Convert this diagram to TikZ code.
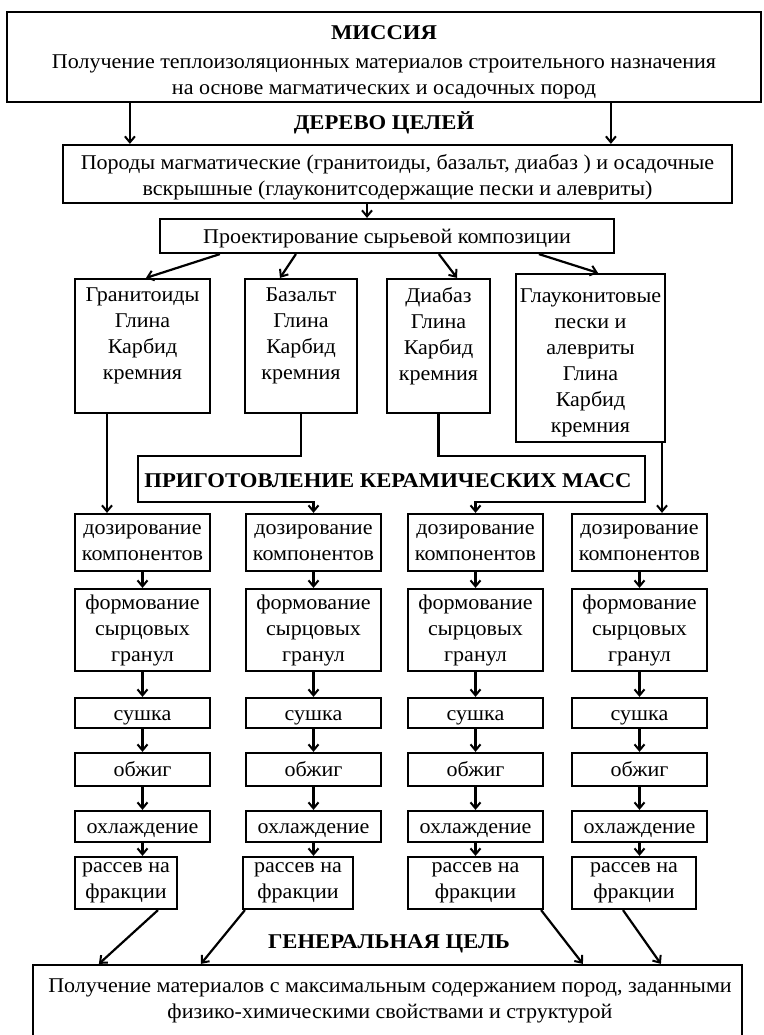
\documentclass[tikz,border=0pt]{standalone}
\usepackage{fontspec}
\setmainfont{Liberation Serif}[FakeStretch=1.05, BoldFeatures={FakeStretch=1.08}]
\usetikzlibrary{arrows.meta}
\begin{document}
\begin{tikzpicture}[x=1pt,y=-1pt,
  line width=2.2pt,
  box/.style={draw, line width=2.2pt, inner sep=0pt, align=center, font=\fontsize{21}{26}\selectfont},
  one/.style={text height=14pt, text depth=0pt},
  txt/.style={align=center, inner sep=0pt, font=\fontsize{21}{26}\selectfont},
  btxt/.style={align=center, inner sep=0pt, font=\fontsize{21}{26}\selectfont\bfseries},
  arr/.style={-{Straight Barb[length=6pt,width=10pt,line width=2pt]}}]

\useasboundingbox (0,0) rectangle (763,1035);
\clip (0,0) rectangle (763,1035);

% Mission
\node[box, minimum width=754pt, minimum height=90pt] (mis) at (384,57) {};
\node[txt] (mist) at (384,62) {\textbf{МИССИЯ}\\[3pt] Получение теплоизоляционных материалов строительного назначения\\ на основе магматических и осадочных пород};

\node[btxt] (tree) at (384,123) {ДЕРЕВО ЦЕЛЕЙ};

% Source rocks
\node[box, minimum width=669pt, minimum height=58pt] (src) at (397.5,174) {};
\node[txt] (srct) at (397.5,177) {Породы магматические (гранитоиды, базальт, диабаз ) и осадочные\\ вскрышные (глауконитсодержащие пески и алевриты)};

\coordinate (m1) at ([xshift=124pt]mis.south west);
\coordinate (m2) at ([xshift=605pt]mis.south west);
\draw[arr] (m1) -- (m1 |- src.north);
\draw[arr] (m2) -- (m2 |- src.north);

% Design
\node[box, one, minimum width=454pt, minimum height=34pt] (des) at (387,236) {Проектирование сырьевой композиции};
\coordinate (sd) at ([xshift=-20pt]des.north);
\draw[arr] (sd |- src.south) -- (sd);

% Material boxes
\node[box, minimum width=135pt, minimum height=134pt] (b1) at (142.5,346) {};
\node[txt] (b1t) at (142.5,336) {Гранитоиды\\Глина\\Карбид\\кремния};
\node[box, minimum width=112pt, minimum height=134pt] (b2) at (301,346) {};
\node[txt] (b2t) at (301,336) {Базальт\\Глина\\Карбид\\кремния};
\node[box, minimum width=103pt, minimum height=134pt] (b3) at (438.5,346) {};
\node[txt] (b3t) at (438.5,336) {Диабаз\\Глина\\Карбид\\кремния};
\node[box, minimum width=149pt, minimum height=168pt] (b4) at (590.5,358) {};
\node[txt] (b4t) at (590.5,363) {Глауконитовые\\пески и\\алевриты\\Глина\\Карбид\\кремния};

\draw[arr] ([xshift=61pt]des.south west) -- ([xshift=3.5pt]b1.north);
\draw[arr] ([xshift=137pt]des.south west) -- ([xshift=-21pt]b2.north);
\draw[arr] ([xshift=280pt]des.south west) -- ([xshift=18.5pt]b3.north);
\draw[arr] ([xshift=380pt]des.south west) -- ([xshift=7.5pt]b4.north);

% Process columns
\foreach \i/\cx in {1/142.5, 2/313.5, 3/475.5, 4/639.5} {
  \node[box, minimum width=135pt, minimum height=57pt] (dos\i) at (\cx,542.5) {дозирование\\компонентов};
  \node[box, minimum width=135pt, minimum height=82pt] (frm\i) at (\cx,630) {формование\\сырцовых\\гранул};
  \node[box, one, minimum width=135pt, minimum height=30pt] (dry\i) at (\cx,713) {сушка};
  \node[box, one, minimum width=135pt, minimum height=33pt] (fir\i) at (\cx,769.5) {обжиг};
  \node[box, one, minimum width=135pt, minimum height=31pt] (cool\i) at (\cx,826.5) {охлаждение};
}
\foreach \i/\cx/\w in {1/126/102, 2/298/110, 3/475.5/135, 4/634/124} {
  \node[box, minimum width=\w pt, minimum height=52pt] (sv\i) at (\cx,883) {рассев на\\фракции};
}
\foreach \i in {1,2,3,4} {
  \draw[arr] (dos\i.south) -- (frm\i.north);
  \draw[arr] (frm\i.south) -- (dry\i.north);
  \draw[arr] (dry\i.south) -- (fir\i.north);
  \draw[arr] (fir\i.south) -- (cool\i.north);
  \draw[arr] (cool\i.south) -- (cool\i.south |- sv\i.north);
}

% Ceramic masses frame
\node[btxt] (cer) at (388,481) {ПРИГОТОВЛЕНИЕ КЕРАМИЧЕСКИХ МАСС};
\coordinate (cerTL) at (138,456);
\coordinate (cerBL) at (138,502);
\coordinate (cerTR) at (645,456);
\coordinate (cerBR) at (645,502);
\draw[arr] (b2.south) |- (cerTL) -- (cerBL) -| (dos2.north);
\draw[arr] (b3.south) |- (cerTR) -- (cerBR) -| (dos3.north);
\coordinate (l1) at ([xshift=-35.5pt]b1.south);
\coordinate (l4) at ([xshift=71.5pt]b4.south);
\draw[arr] (l1) -- (l1 |- dos1.north);
\draw[arr] (l4) -- (l4 |- dos4.north);

% General goal
\node[btxt] (gen) at (389,944) {ГЕНЕРАЛЬНАЯ ЦЕЛЬ};
\node[box, minimum width=709pt, minimum height=100pt] (goal) at (387.5,1015) {};
\node[txt] (goalt) at (390,1001) {Получение материалов с максимальным содержанием пород, заданными\\ физико-химическими свойствами и структурой};

\draw[arr] ([xshift=32pt]sv1.south) -- ([xshift=67pt]goal.north west);
\draw[arr] ([xshift=3pt]sv2.south west) -- ([xshift=169pt]goal.north west);
\draw[arr] ([xshift=-3pt]sv3.south east) -- ([xshift=551pt]goal.north west);
\draw[arr] ([xshift=-11pt]sv4.south) -- ([xshift=629pt]goal.north west);
\end{tikzpicture}
\end{document}
